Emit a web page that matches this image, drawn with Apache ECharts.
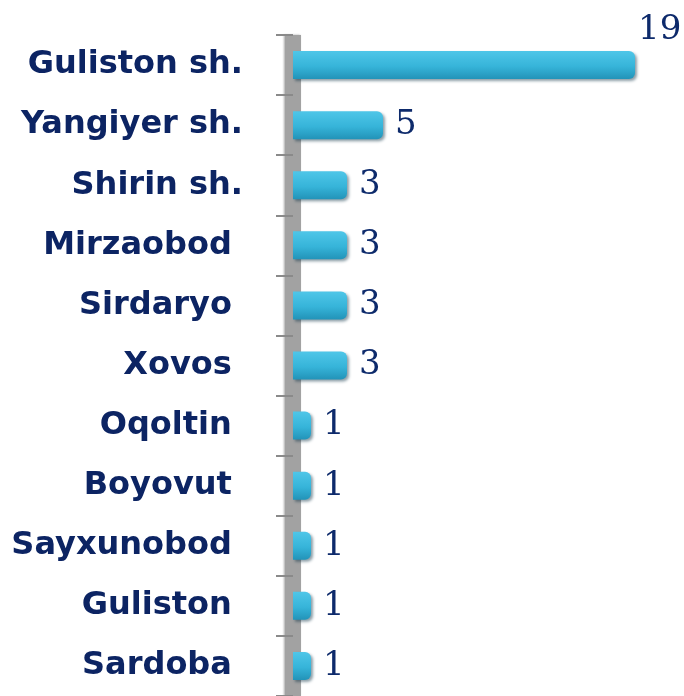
<!DOCTYPE html>
<html>
<head>
<meta charset="utf-8">
<script src="https://cdn.jsdelivr.net/npm/echarts@6/dist/echarts.min.js"></script>
<style>
  html, body { margin: 0; padding: 0; background: #fff; }
  #chart { width: 684px; height: 696px; }
</style>
</head>
<body>
<div id="chart"></div>
<script>
// districts, top to bottom
const districts = ['Guliston sh.', 'Yangiyer sh.', 'Shirin sh.', 'Mirzaobod', 'Sirdaryo', 'Xovos',
  'Oqoltin', 'Boyovut', 'Sayxunobod', 'Guliston', 'Sardoba'];
const counts = [19, 5, 3, 3, 3, 3, 1, 1, 1, 1, 1];

const navy = '#0c2463';

const chart = echarts.init(document.getElementById('chart'));

const barColor = new echarts.graphic.LinearGradient(0, 0, 0, 1, [
  { offset: 0, color: '#4fc6e8' },
  { offset: 0.55, color: '#36b4d9' },
  { offset: 1, color: '#2293b8' }
]);

const option = {
  backgroundColor: '#ffffff',
  animation: false,
  grid: { left: 293, right: 31, top: 35, bottom: -4.5 },
  xAxis: {
    type: 'value',
    min: 0,
    max: 20,
    show: false
  },
  yAxis: {
    type: 'category',
    inverse: true,
    data: districts,
    axisLine: {
      show: true,
      lineStyle: {
        color: '#a2a2a2',
        width: 16,
        cap: 'butt',
        shadowColor: 'rgba(0, 0, 0, 0.35)',
        shadowBlur: 2,
        shadowOffsetX: -1
      }
    },
    axisTick: {
      show: true,
      length: 17,
      lineStyle: { color: '#8a8a8a', width: 2 }
    },
    axisLabel: {
      margin: 50,
      color: navy,
      fontFamily: 'DejaVu Sans',
      fontWeight: 'bold',
      fontSize: 32,
      // names without "sh." had a trailing space in the source
      formatter: function (name) {
        return name.endsWith('.') ? name : name + ' ';
      }
    },
    splitLine: { show: false }
  },
  series: [{
    type: 'bar',
    barWidth: 28,
    data: counts.map(function (v, i) {
      if (i === 0) {
        // the long bar's label sits above its end
        return { value: v, label: { distance: 3, offset: [0, -35] } };
      }
      return v;
    }),
    itemStyle: {
      color: barColor,
      borderRadius: [0, 6, 6, 0],
      shadowColor: 'rgba(0, 40, 60, 0.45)',
      shadowBlur: 3,
      shadowOffsetX: 2,
      shadowOffsetY: 2
    },
    label: {
      show: true,
      position: 'right',
      distance: 12,
      color: '#0d2a6b',
      fontFamily: 'DejaVu Serif',
      fontSize: 34
    }
  }]
};

chart.setOption(option);
</script>
</body>
</html>
